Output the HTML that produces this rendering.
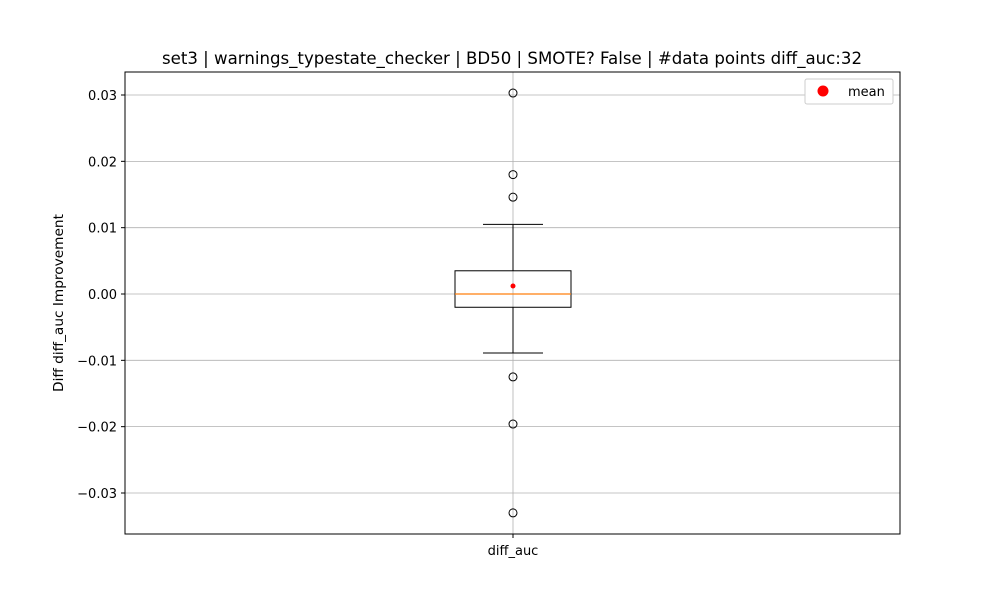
<!DOCTYPE html>
<html><head><meta charset="utf-8"><style>
body{margin:0;background:#fff;font-family:"DejaVu Sans","Liberation Sans",sans-serif}
svg{font-family:"DejaVu Sans","Liberation Sans",sans-serif}
</style></head><body>
<svg width="1000" height="600" xmlns="http://www.w3.org/2000/svg">
<rect width="1000" height="600" fill="#fff"/>
<g id="grid"></g>
<g id="marks"></g>
<rect x="125" y="72" width="775" height="462" fill="none" stroke="#000" stroke-width="1"/>
<g id="ticks" font-size="13"></g>
<text x="512" y="64" text-anchor="middle" font-size="16.6">set3 | warnings_typestate_checker | BD50 | SMOTE? False | #data points diff_auc:32</text>
<text x="513" y="555" text-anchor="middle" font-size="13">diff_auc</text>
<text transform="translate(63,303) rotate(-90)" text-anchor="middle" font-size="13.7">Diff diff_auc Improvement</text>
<g>
<rect x="805" y="79" width="88" height="25" fill="#fff" stroke="#ccc" rx="2"/>
<circle cx="823" cy="91" r="5.5" fill="red"/>
<text x="848" y="96" font-size="13">mean</text>
</g>
</svg>
<script>
const yTicks=[0.03,0.02,0.01,0.00,-0.01,-0.02,-0.03];
const yTickLabels=["0.03","0.02","0.01","0.00","\u22120.01","\u22120.02","\u22120.03"];
const boxStats=[-0.0089,-0.002,0.0,0.0035,0.0105];
const outliers=[0.0303,0.018,0.0146,-0.0125,-0.0196,-0.033];
const meanValue=[0.0012];
const NS="http://www.w3.org/2000/svg";
function y(v){return 294-v*6633;}
const cx=513;
function el(t,a,p){const e=document.createElementNS(NS,t);for(const k in a)e.setAttribute(k,a[k]);p.appendChild(e);return e;}
const grid=document.getElementById('grid'),ticks=document.getElementById('ticks'),marks=document.getElementById('marks');
el('line',{x1:cx,x2:cx,y1:72,y2:534,stroke:'#b0b0b0','stroke-width':0.8},grid);
yTicks.forEach((v,i)=>{
 const g=el('line',{x1:125,x2:900,y1:y(v),y2:y(v),stroke:'#b0b0b0','stroke-width':0.8},grid);
 
 
 el('line',{x1:121,x2:125,y1:y(v),y2:y(v),stroke:'#000'},ticks);
 const t=el('text',{x:117,y:y(v)+5,'text-anchor':'end'},ticks);t.textContent=yTickLabels[i];
 
 
});
el('line',{x1:cx,x2:cx,y1:534,y2:538,stroke:'#000'},ticks);
const [lo,q1,med,q3,hi]=boxStats;
el('line',{x1:cx,x2:cx,y1:y(q3),y2:y(hi),stroke:'#000'},marks);
el('line',{x1:cx,x2:cx,y1:y(q1),y2:y(lo),stroke:'#000'},marks);
el('line',{x1:483,x2:543,y1:y(hi),y2:y(hi),stroke:'#000'},marks);
el('line',{x1:483,x2:543,y1:y(lo),y2:y(lo),stroke:'#000'},marks);
const b=el('rect',{x:455,y:y(q3),width:116,height:y(q1)-y(q3),fill:'none',stroke:'#000'},marks);


el('line',{x1:455,x2:571,y1:y(med),y2:y(med),stroke:'#ff7f0e','stroke-width':1.3},marks);
outliers.forEach(v=>{const c=el('circle',{cx:cx,cy:y(v),r:4,fill:'none',stroke:'#000'},marks);
 
 });
meanValue.forEach(v=>{const m=el('circle',{cx:cx,cy:y(v),r:2.5,fill:'red'},marks);
 
 });
</script>
</body></html>
